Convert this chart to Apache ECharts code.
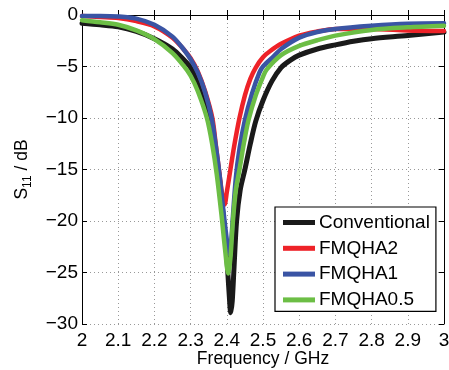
<!DOCTYPE html>
<html>
<head>
<meta charset="utf-8">
<script src="https://cdn.jsdelivr.net/npm/echarts@6/dist/echarts.min.js"></script>
<style>html,body{margin:0;padding:0;background:#fff;}#c{width:449px;height:370px;}</style>
</head>
<body>
<div id="c"></div>
<script>
var seriesNames = ['Conventional', 'FMQHA2', 'FMQHA1', 'FMQHA0.5'];
var xTicks = ['2', '2.1', '2.2', '2.3', '2.4', '2.5', '2.6', '2.7', '2.8', '2.9', '3'];
var yTicks = ['0', '-5', '-10', '-15', '-20', '-25', '-30'];

var conventional = [
  [2.00, -0.8], [2.05, -0.95], [2.10, -1.15], [2.15, -1.6], [2.20, -2.3], [2.25, -3.3],
  [2.28, -4.3], [2.30, -5.1], [2.32, -6.5], [2.353, -10], [2.368, -13], [2.38, -16],
  [2.39, -19.5], [2.40, -23.5], [2.406, -26.8], [2.411, -28.9], [2.415, -27.8], [2.42, -24.5],
  [2.427, -20], [2.437, -17], [2.45, -15], [2.465, -12.5], [2.48, -10.3], [2.50, -8.3],
  [2.525, -6.4], [2.55, -5.1], [2.575, -4.4], [2.60, -3.9], [2.65, -3.3], [2.70, -2.9],
  [2.75, -2.55], [2.80, -2.3], [2.90, -2.0], [3.00, -1.65]
];
var fmqha2 = [
  [2.00, -0.1], [2.05, -0.2], [2.10, -0.3], [2.15, -0.6], [2.20, -1.1], [2.25, -2.2],
  [2.28, -3.3], [2.30, -4.2], [2.32, -5.5], [2.34, -7.4], [2.36, -10], [2.37, -12.7],
  [2.38, -15.5], [2.388, -17.6], [2.394, -18.4], [2.40, -17.2], [2.41, -15], [2.42, -12.8],
  [2.435, -10], [2.45, -7.8], [2.465, -6.2], [2.48, -5.1], [2.50, -4.1], [2.52, -3.5],
  [2.55, -2.8], [2.60, -2.0], [2.65, -1.6], [2.70, -1.35], [2.80, -1.35], [2.90, -1.5],
  [3.00, -1.55]
];
var fmqha1 = [
  [2.00, -0.1], [2.05, -0.1], [2.10, -0.15], [2.15, -0.35], [2.20, -0.95], [2.25, -2.1],
  [2.28, -3.3], [2.30, -4.3], [2.32, -5.6], [2.34, -7.5], [2.358, -10], [2.37, -12.8],
  [2.38, -15.5], [2.39, -18.8], [2.40, -21.8], [2.407, -23.2], [2.412, -22], [2.417, -19.5],
  [2.425, -15.8], [2.435, -13], [2.45, -10.2], [2.47, -7.6], [2.49, -5.6], [2.50, -5.0],
  [2.53, -4.0], [2.55, -3.3], [2.60, -2.2], [2.65, -1.65], [2.70, -1.35], [2.80, -1.05],
  [2.90, -0.85], [3.00, -0.8]
];
var fmqha05 = [
  [2.00, -0.5], [2.05, -0.7], [2.10, -0.95], [2.15, -1.5], [2.20, -2.35], [2.25, -3.7],
  [2.28, -4.9], [2.30, -5.9], [2.32, -7.4], [2.345, -10], [2.36, -12.6], [2.372, -15.4],
  [2.385, -19.3], [2.395, -22.7], [2.404, -25.1], [2.41, -23.6], [2.414, -21.5], [2.418, -19.5],
  [2.425, -17], [2.435, -15], [2.448, -12.3], [2.46, -10.2], [2.48, -7.8], [2.50, -6.0],
  [2.51, -5.3], [2.55, -3.9], [2.60, -3.0], [2.65, -2.45], [2.70, -2.0], [2.80, -1.45],
  [2.90, -1.2], [3.00, -1.05]
];
var colors = ['#1a1a1a', '#ee2228', '#3a54a4', '#6cbe45'];
var widths = [5, 4.5, 4.5, 4.5];
var allData = [conventional, fmqha2, fmqha1, fmqha05];

var FONT = 'Liberation Sans';
var chart = echarts.init(document.getElementById('c'), null, {renderer: 'canvas'});

function mkSeries(i) {
  return {
    name: seriesNames[i], type: 'line', data: allData[i],
    xAxisIndex: 0, yAxisIndex: 0,
    showSymbol: false, symbol: 'none', smooth: 0.3,
    lineStyle: {color: colors[i], width: widths[i], join: 'round', cap: 'round'},
    itemStyle: {color: colors[i]},
    animation: false
  };
}

var gridLine = {show: true, lineStyle: {color: '#999', width: 1, type: [1, 3]}};
var axisLineStyle = {show: true, lineStyle: {color: '#000', width: 1}};

var option = {
  backgroundColor: '#fff',
  animation: false,
  grid: {left: 82, right: 5, top: 15, bottom: 46, containLabel: false, outerBoundsMode: 'none'},
  legend: {
    data: seriesNames,
    orient: 'vertical',
    left: 275, top: 207,
    backgroundColor: '#fff',
    borderColor: '#000', borderWidth: 1.2,
    padding: [6, 6, 2, 8],
    itemWidth: 32, itemHeight: 5, itemGap: 6.8,
    icon: 'rect',
    textStyle: {fontFamily: FONT, fontSize: 19, color: '#000', lineHeight: 19, padding: [0, 0, 0, -1]},
    z: 10
  },
  xAxis: [{
    type: 'value', min: 2, max: 3, interval: 0.1, position: 'bottom',
    name: 'Frequency / GHz', nameLocation: 'middle', nameGap: 26, nameMoveOverlap: false,
    nameTextStyle: {fontFamily: FONT, fontSize: 17.5, color: '#000'},
    axisLine: axisLineStyle,
    axisTick: {show: true, inside: true, length: 5, lineStyle: {color: '#000'}},
    axisLabel: {fontFamily: FONT, fontSize: 19, color: '#000', margin: 7,
      formatter: function (v) { return xTicks[Math.round((v - 2) * 10)]; }},
    splitLine: gridLine
  }, {
    type: 'value', min: 2, max: 3, interval: 0.1, position: 'top',
    axisLine: axisLineStyle,
    axisTick: {show: true, inside: true, length: 5, lineStyle: {color: '#000'}},
    axisLabel: {show: false}, splitLine: {show: false}
  }],
  yAxis: [{
    type: 'value', min: -30, max: 0, interval: 5, position: 'left',
    name: '{a|S}{b|11}{a| / dB}', nameLocation: 'middle', nameGap: 48, nameMoveOverlap: false,
    nameRotate: 90,
    nameTextStyle: {
      rich: {
        a: {fontFamily: FONT, fontSize: 17.5, color: '#000'},
        b: {fontFamily: FONT, fontSize: 12, color: '#000', padding: [12, 0, 0, 0]}
      }
    },
    axisLine: axisLineStyle,
    axisTick: {show: true, inside: true, length: 5, lineStyle: {color: '#000'}},
    axisLabel: {fontFamily: FONT, fontSize: 19, color: '#000', margin: 4,
      formatter: function (v) { return yTicks[Math.round(-v / 5)].replace('-', '\u2212'); }},
    splitLine: gridLine
  }, {
    type: 'value', min: -30, max: 0, interval: 5, position: 'right',
    axisLine: axisLineStyle,
    axisTick: {show: true, inside: true, length: 5, lineStyle: {color: '#000'}},
    axisLabel: {show: false}, splitLine: {show: false}
  }],
  series: [mkSeries(0), mkSeries(1), mkSeries(2), mkSeries(3)]
};
chart.setOption(option);
</script>
</body>
</html>
